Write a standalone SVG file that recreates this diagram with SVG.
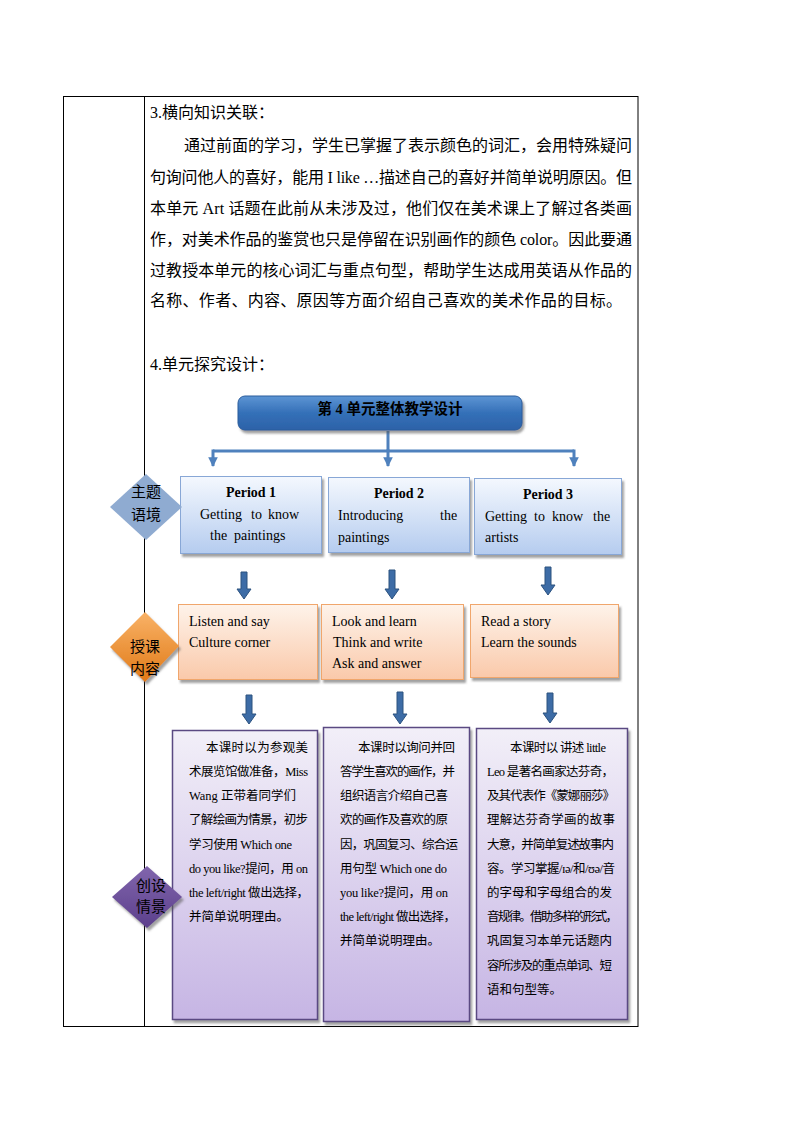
<svg xmlns="http://www.w3.org/2000/svg" width="794" height="1123" viewBox="0 0 794 1123">
<defs>
<linearGradient id="gTitle" x1="0" y1="0" x2="0" y2="1">
<stop offset="0" stop-color="#5d95d4"/><stop offset="0.5" stop-color="#3470b8"/><stop offset="1" stop-color="#2c62a8"/>
</linearGradient>
<linearGradient id="gBlue" x1="0" y1="0" x2="0" y2="1">
<stop offset="0" stop-color="#f4f8fe"/><stop offset="1" stop-color="#b5ccef"/>
</linearGradient>
<linearGradient id="gOrange" x1="0" y1="0" x2="0" y2="1">
<stop offset="0" stop-color="#fef3ea"/><stop offset="1" stop-color="#fac9aa"/>
</linearGradient>
<linearGradient id="gPurple" x1="0" y1="0" x2="0" y2="1">
<stop offset="0" stop-color="#f2eff8"/><stop offset="1" stop-color="#c6b5e4"/>
</linearGradient>
<linearGradient id="gDOrange" x1="0" y1="0" x2="0" y2="1">
<stop offset="0" stop-color="#f9b267"/><stop offset="1" stop-color="#e07a17"/>
</linearGradient>
<linearGradient id="gDPurple" x1="0" y1="0" x2="0" y2="1">
<stop offset="0" stop-color="#8166ad"/><stop offset="1" stop-color="#5c3f8c"/>
</linearGradient>
<filter id="sh" x="-10%" y="-10%" width="130%" height="130%">
<feDropShadow dx="2" dy="3" stdDeviation="1.2" flood-color="#555" flood-opacity="0.55"/>
</filter>
<marker id="ah" viewBox="0 0 10 10" refX="9" refY="5" markerWidth="3.2" markerHeight="3.2" orient="auto" markerUnits="strokeWidth">
<path d="M0,0 L10,5 L0,10 Z" fill="#4f81bd"/>
</marker>
<style>
.t{font-family:"Liberation Serif","Noto Sans CJK SC",serif;fill:#000;}
.p{font-size:16px;}
.b{font-size:14px;}
.s{font-size:12.5px;}
.d{font-size:15px;text-anchor:middle;font-family:"Noto Sans CJK SC","Liberation Sans",sans-serif;fill:#000;}
.bx{stroke-width:1;filter:url(#sh);}
.blue{fill:url(#gBlue);stroke:#88a7d6;}
.org{fill:url(#gOrange);stroke:#f0a66c;}
.pur{fill:url(#gPurple);stroke:#5a4a82;stroke-width:1.5;}
.conn{fill:none;stroke:#4f81bd;stroke-width:3;}
.barrow{fill:#3d6ca6;stroke:#2c527f;stroke-width:1;}
.tbl{stroke:#000;stroke-width:1;fill:none;}
</style>
</defs>
<rect width="794" height="1123" fill="#fff"/>

<g id="table">
<rect class="tbl" x="63.5" y="96.5" width="574.5" height="930"/>
<line class="tbl" x1="144.5" y1="96.5" x2="144.5" y2="1026.5"/>
</g>

<g id="intro-text">
<text class="t p" x="150" y="118">3.横向知识关联：</text>
<text class="t p" x="184" y="151" textLength="448">通过前面的学习，学生已掌握了表示颜色的词汇，会用特殊疑问</text>
<text class="t p" x="150" y="183" textLength="482">句询问他人的喜好，能用 I like …描述自己的喜好并简单说明原因。但</text>
<text class="t p" x="150" y="214" textLength="482">本单元 Art 话题在此前从未涉及过，他们仅在美术课上了解过各类画</text>
<text class="t p" x="150" y="245" textLength="482">作，对美术作品的鉴赏也只是停留在识别画作的颜色 color。因此要通</text>
<text class="t p" x="150" y="276" textLength="482">过教授本单元的核心词汇与重点句型，帮助学生达成用英语从作品的</text>
<text class="t p" x="150" y="306" textLength="472">名称、作者、内容、原因等方面介绍自己喜欢的美术作品的目标。</text>
<text class="t p" x="150" y="370">4.单元探究设计：</text>
</g>

<g id="connectors">
<path class="conn" d="M388,431 V451 M213,451 H574"/>
<path class="conn" d="M213,449.5 V466" marker-end="url(#ah)"/>
<path class="conn" d="M388,449.5 V466" marker-end="url(#ah)"/>
<path class="conn" d="M574,449.5 V466" marker-end="url(#ah)"/>
<path class="barrow" d="M241,572 H247 V589 H251 L244,599 L237,589 H241 Z"/>
<path class="barrow" d="M389,570 H395 V589 H399 L392,599 L385,589 H389 Z"/>
<path class="barrow" d="M545,567 H551 V585 H555 L548,595 L541,585 H545 Z"/>
<path class="barrow" d="M246,695 H252 V714 H256 L249,724 L242,714 H246 Z"/>
<path class="barrow" d="M397,692 H403 V714 H407 L400,724 L393,714 H397 Z"/>
<path class="barrow" d="M547,693 H553 V713 H557 L550,723 L543,713 H547 Z"/>
</g>

<g id="title">
<rect x="238" y="396" width="284" height="34" rx="7" fill="url(#gTitle)" stroke="#2b5c9c" stroke-width="1" filter="url(#sh)"/>
<text class="t" x="390" y="414" font-size="14.5" font-weight="bold" text-anchor="middle">第 4 单元整体教学设计</text>
</g>

<g id="period1">
<rect class="bx blue" x="180.5" y="476.5" width="141" height="77"/>
<text class="t b" x="251" y="497" font-weight="bold" text-anchor="middle">Period 1</text>
<text class="t b" x="200" y="519">Getting</text>
<text class="t b" x="251" y="519">to</text>
<text class="t b" x="268" y="519">know</text>
<text class="t b" x="210" y="540">the</text>
<text class="t b" x="234" y="540">paintings</text>
</g>
<g id="period2">
<rect class="bx blue" x="328.5" y="477.5" width="141" height="75"/>
<text class="t b" x="399" y="498" font-weight="bold" text-anchor="middle">Period 2</text>
<text class="t b" x="338" y="520">Introducing</text>
<text class="t b" x="440" y="520">the</text>
<text class="t b" x="338" y="542">paintings</text>
</g>
<g id="period3">
<rect class="bx blue" x="474.5" y="478.5" width="147" height="76"/>
<text class="t b" x="548" y="499" font-weight="bold" text-anchor="middle">Period 3</text>
<text class="t b" x="485" y="521">Getting</text>
<text class="t b" x="534" y="521">to</text>
<text class="t b" x="552" y="521">know</text>
<text class="t b" x="593" y="521">the</text>
<text class="t b" x="485" y="542">artists</text>
</g>

<g id="content1">
<rect class="bx org" x="178.5" y="604.5" width="139" height="75"/>
<text class="t b" x="189" y="626">Listen and say</text>
<text class="t b" x="189" y="647">Culture corner</text>
</g>
<g id="content2">
<rect class="bx org" x="321.5" y="604.5" width="142" height="75"/>
<text class="t b" x="332" y="626">Look and learn</text>
<text class="t b" x="333" y="647">Think and write</text>
<text class="t b" x="332" y="668">Ask and answer</text>
</g>
<g id="content3">
<rect class="bx org" x="470.5" y="604.5" width="148" height="73"/>
<text class="t b" x="481" y="626">Read a story</text>
<text class="t b" x="481" y="647">Learn the sounds</text>
</g>

<g id="scene1">
<rect class="bx pur" x="172.5" y="730.5" width="145" height="289"/>
<text class="t s" x="206" y="752" textLength="102">本课时以为参观美</text>
<text class="t s" x="189" y="776" textLength="119">术展览馆做准备，Miss</text>
<text class="t s" x="189" y="800" textLength="107">Wang  正带着同学们</text>
<text class="t s" x="189" y="824" textLength="119">了解绘画为情景，初步</text>
<text class="t s" x="189" y="849" textLength="103">学习使用 Which one</text>
<text class="t s" x="189" y="873" textLength="119">do you like?提问，用 on</text>
<text class="t s" x="189" y="897" textLength="120">the left/right 做出选择，</text>
<text class="t s" x="189" y="921">并简单说明理由。</text>
</g>
<g id="scene2">
<rect class="bx pur" x="323.5" y="727.5" width="146" height="294"/>
<text class="t s" x="358" y="752" textLength="97">本课时以询问并回</text>
<text class="t s" x="340" y="776" textLength="115">答学生喜欢的画作，并</text>
<text class="t s" x="340" y="800" textLength="108">组织语言介绍自己喜</text>
<text class="t s" x="340" y="824" textLength="108">欢的画作及喜欢的原</text>
<text class="t s" x="340" y="849" textLength="118">因，巩固复习、综合运</text>
<text class="t s" x="340" y="873" textLength="107">用句型 Which one do</text>
<text class="t s" x="340" y="897" textLength="108">you like?提问，用 on</text>
<text class="t s" x="340" y="921" textLength="116">the left/right 做出选择，</text>
<text class="t s" x="340" y="945">并简单说明理由。</text>
</g>
<g id="scene3">
<rect class="bx pur" x="476.5" y="728.5" width="151" height="291"/>
<text class="t s" x="510" y="752" textLength="96">本课时以 讲述 little</text>
<text class="t s" x="487" y="776" textLength="127">Leo 是著名画家达芬奇，</text>
<text class="t s" x="487" y="800" textLength="128">及其代表作《蒙娜丽莎》</text>
<text class="t s" x="487" y="824" textLength="128">理解达芬奇学画的故事</text>
<text class="t s" x="487" y="849" textLength="127">大意，并简单复述故事内</text>
<text class="t s" x="487" y="873" textLength="128">容。学习掌握/ɪə/和/ʊə/音</text>
<text class="t s" x="487" y="897" textLength="125">的字母和字母组合的发</text>
<text class="t s" x="487" y="921" textLength="131">音规律。借助多样的形式，</text>
<text class="t s" x="487" y="945" textLength="125">巩固复习本单元话题内</text>
<text class="t s" x="487" y="970" textLength="125">容所涉及的重点单词、短</text>
<text class="t s" x="487" y="994">语和句型等。</text>
</g>

<g id="diamond-theme">
<polygon points="146,474 182,507 146,540 110,507" fill="#8fabd1"/>
<text class="d" x="146" y="497">主题</text>
<text class="d" x="146" y="520">语境</text>
</g>
<g id="diamond-content">
<polygon points="145,612 179,646 145,682 110,647" fill="url(#gDOrange)" filter="url(#sh)"/>
<text class="d" x="145" y="652">授课</text>
<text class="d" x="145" y="674">内容</text>
</g>
<g id="diamond-scene">
<polygon points="147,866 182,897 147,928 112,897" fill="url(#gDPurple)" filter="url(#sh)"/>
<text class="d" x="151" y="891">创设</text>
<text class="d" x="151" y="912">情景</text>
</g>
</svg>
